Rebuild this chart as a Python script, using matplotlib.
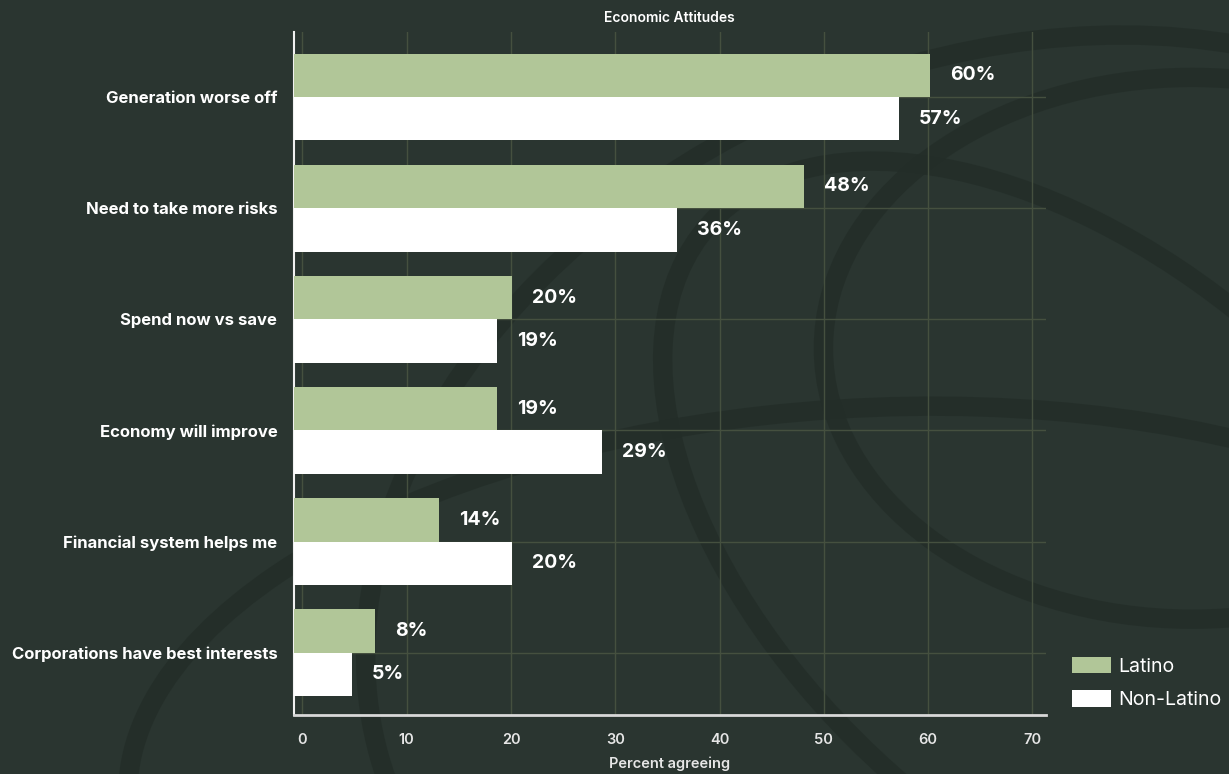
import matplotlib.pyplot as plt
from matplotlib.patches import Ellipse, Patch
import numpy as np

categories = ["Generation worse off", "Need to take more risks", "Spend now vs save",
              "Economy will improve", "Financial system helps me", "Corporations have best interests"]
latino = [60.2, 48.1, 20.1, 18.7, 13.1, 7.0]
non_latino = [57.2, 35.9, 18.7, 28.7, 20.1, 4.8]
latino_labels = ["60%", "48%", "20%", "19%", "14%", "8%"]
non_latino_labels = ["57%", "36%", "19%", "29%", "20%", "5%"]
xticks = [0, 10, 20, 30, 40, 50, 60, 70]

BG = "#2a3530"
GREEN = "#b1c698"
GRID = "#45503f"
XMIN, XMAX = -0.8, 71.3

plt.rcParams['font.family'] = ['Inter', 'DejaVu Sans']

fig = plt.figure(figsize=(12.29, 7.74), dpi=100, facecolor=BG)

# faint background swirls, behind everything
bg = fig.add_axes([0, 0, 1, 1], zorder=-10)
bg.set_xlim(0, 1)
bg.set_ylim(0, 1)
bg.axis("off")
for (cx, cy, w, h, ang) in [(0.80, 0.30, 0.95, 1.35, -20), (0.88, 0.28, 0.55, 1.1, 25),
                            (0.70, 0.02, 1.2, 0.9, 10), (0.97, 0.55, 0.6, 0.7, 0)]:
    bg.add_patch(Ellipse((cx, cy), w, h, angle=ang, fill=False, ec="#232d28", lw=14, alpha=0.8))

ax = fig.add_axes([294 / 1229, 1 - 715 / 774, (1046 - 294) / 1229, (715 - 32) / 774])
ax.set_facecolor("none")

y = np.arange(len(categories))
h = 0.39
ax.barh(y - h / 2, np.array(latino) - XMIN, left=XMIN, height=h, color=GREEN, zorder=3, label="Latino")
ax.barh(y + h / 2, np.array(non_latino) - XMIN, left=XMIN, height=h, color="white", zorder=3, label="Non-Latino")

for i in range(len(categories)):
    ax.text(latino[i] + 1.9, y[i] - h / 2, latino_labels[i], color="white", fontsize=14,
            fontweight="bold", va="center", ha="left", zorder=4)
    ax.text(non_latino[i] + 1.9, y[i] + h / 2, non_latino_labels[i], color="white", fontsize=14,
            fontweight="bold", va="center", ha="left", zorder=4)

ax.set_xlim(XMIN, XMAX)
ax.set_ylim(len(categories) - 1 + 0.56, -0.585)
ax.set_yticks(y)
ax.set_yticklabels(categories, color="white", fontsize=12, fontweight="bold")
ax.tick_params(axis="both", length=0)
ax.tick_params(axis="y", pad=12)
ax.set_xticks(xticks)
ax.set_xticklabels([str(t) for t in xticks], color="#e6e6e6", fontsize=10.5, fontweight="semibold")
ax.tick_params(axis="x", pad=13)

ax.grid(True, color=GRID, lw=1, zorder=1)
for s in ["top", "right"]:
    ax.spines[s].set_visible(False)
ax.spines["left"].set_color("#f0f0f0")
ax.spines["bottom"].set_color("#d8d8d8")
ax.spines["left"].set_linewidth(1.5)
ax.spines["bottom"].set_linewidth(2)

ax.set_xlabel("Percent agreeing", color="#e6e6e6", fontsize=10.5, fontweight="semibold", labelpad=7)
fig.text(0.545, 0.977, "Economic Attitudes", color="white", fontsize=10, fontweight="semibold",
         ha="center", va="center")

handles = [Patch(facecolor=GREEN, label="Latino"), Patch(facecolor="white", label="Non-Latino")]
fig.legend(handles=handles, loc="center left", bbox_to_anchor=(1054 / 1229, 1 - 683 / 774),
           frameon=False, fontsize=14, labelcolor="white", handlelength=2.05, handleheight=0.95,
           handletextpad=0.35, labelspacing=0.75, borderpad=0.4)

fig.savefig("out.png", dpi=100, facecolor=BG)
